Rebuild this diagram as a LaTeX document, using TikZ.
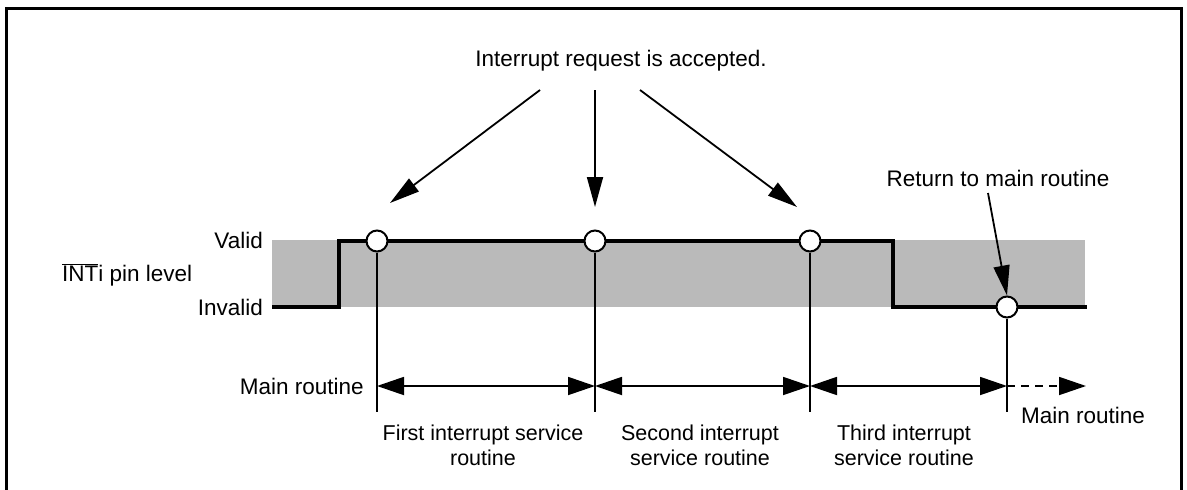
\documentclass[tikz,border=0pt]{standalone}
\usepackage{fontspec}
\setmainfont{Liberation Sans}
\usetikzlibrary{arrows.meta}
\begin{document}
\begin{tikzpicture}[x=1pt,y=-1pt,
  lbl/.style={font=\fontsize{22.5}{25}\selectfont, inner sep=0pt},
  sub/.style={font=\fontsize{21.5}{25}\selectfont, align=center, inner sep=0pt},
  pt/.style={circle, draw, fill=white, line width=2pt, minimum size=21pt, inner sep=0pt},
  tick/.style={line width=2pt},
  span/.style={line width=1.8pt, {Triangle[length=27pt,width=18pt]}-{Triangle[length=27pt,width=18pt]}},
  req/.style={line width=1.8pt, -{Triangle[length=30pt,width=16pt]}},
  sig/.style={line width=3.5pt}]
\useasboundingbox (0,0) rectangle (1187,490);
% frame
\draw[line width=3pt] (6,490) -- (6,8) -- (1181,8) -- (1181,490);
% shaded band
\fill[black!27] (272,240) rectangle (1085,307);
% signal
\draw[sig] (272,307) -- (339,307) -- (339,241) -- (893,241) -- (893,307) -- (1087,307);
% points
\node[pt] (c1) at (377,241) {};
\node[pt] (c2) at (595,241) {};
\node[pt] (c3) at (810,241) {};
\node[pt] (c4) at (1007,307) {};
% ticks
\coordinate (b1) at (377,412);
\coordinate (b2) at (595,412);
\coordinate (b3) at (810,412);
\coordinate (b4) at (1007,412);
\draw[tick] (c1.south) -- (b1);
\draw[tick] (c2.south) -- (b2);
\draw[tick] (c3.south) -- (b3);
\draw[tick] (c4.south) -- (b4);
% spans
\coordinate (m1) at (377,386);
\coordinate (m2) at (595,386);
\coordinate (m3) at (810,386);
\coordinate (m4) at (1007,386);
\coordinate (m5) at (1086,386);
\draw[span] (m1) -- (m2);
\draw[span] (m2) -- (m3);
\draw[span] (m3) -- (m4);
\draw[line width=1.8pt, dash pattern=on 8pt off 6pt, -{Triangle[length=27pt,width=18pt]}] (m4) -- (m5);
% labels
\node[lbl] (top) at (621,61) {Interrupt request is accepted.};
\node[lbl] (ret) at (998,178) {Return to main routine};
\node[lbl, anchor=east] (valid) at (263,240) {Valid};
\node[lbl, anchor=east] (invalid) at (263,307) {Invalid};
\node[lbl, anchor=west] (pin) at (62,275) {$\overline{\hbox{INT}}$i pin level};
\node[lbl, anchor=east] (main) at (364,386) {Main routine};
\node[lbl] (main2) at (1083,415) {Main routine};
\node[sub] (l1) at (483,445) {First interrupt service\\routine};
\node[sub] (l2) at (700,445) {Second interrupt\\service routine};
\node[sub] (l3) at (904,445) {Third interrupt\\service routine};
% request arrows
\coordinate (r1s) at (540,90);
\coordinate (r1e) at (390,203);
\coordinate (r2s) at (595,90);
\coordinate (r2e) at (595,207);
\coordinate (r3s) at (640,90);
\coordinate (r3e) at (797,207);
\draw[req] (r1s) -- (r1e);
\draw[req] (r2s) -- (r2e);
\draw[req] (r3s) -- (r3e);
\coordinate (rs) at (988,193);
\draw[req] (rs) -- (c4.north);
\end{tikzpicture}
\end{document}
